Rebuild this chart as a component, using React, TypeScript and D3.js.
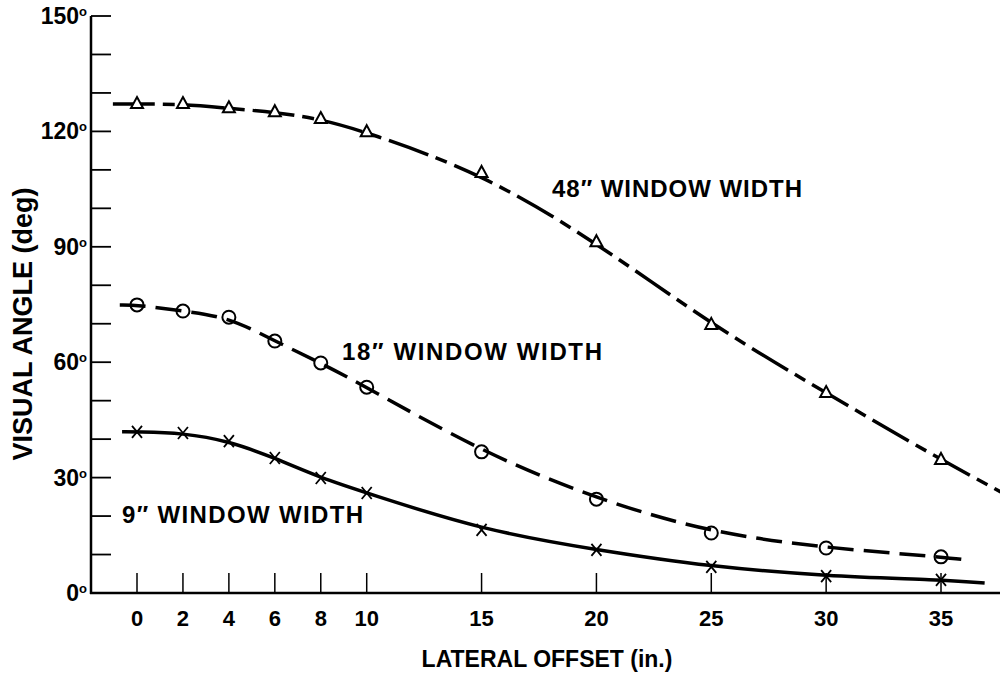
import React, { useRef, useEffect } from 'react';
import * as d3 from 'd3';

// lateral offset (in.) where the points were measured
const offsets = [0, 2, 4, 6, 8, 10, 15, 20, 25, 30, 35];

// visual angle (deg) per window width
const width48 = [127.1, 127.1, 126, 125, 123.2, 119.8, 109.2, 91.2, 69.7, 52, 34.6];
const width18 = [74.9, 73.3, 71.7, 65.5, 59.8, 53.5, 36.7, 24.4, 15.6, 11.7, 9.4];
const width9 = [41.9, 41.6, 39.5, 35.1, 29.9, 26, 16.4, 11.2, 6.8, 4.4, 3.4];

// where the drawn curves start and stop beyond the points: [offset, angle]
const ends48 = [[-1.05, 127.1], [37.6, 26.3]];
const ends18 = [[-0.75, 74.9], [36.1, 8.6]];
const ends9 = [[-0.65, 41.9], [36.9, 2.6]];

const yTicks = d3.range(10, 151, 10);
const yLabels = [0, 30, 60, 90, 120, 150];

const FONT = '"Liberation Sans", Arial, Helvetica, sans-serif';

const Chart = () => {
  const ref = useRef(null);

  useEffect(() => {
    const svg = d3.select(ref.current);
    svg.selectAll('*').remove();

    const x = d3.scaleLinear().domain([0, 35]).range([137, 941]);
    const y = d3.scaleLinear().domain([0, 150]).range([593, 16]);

    const axisX = 91;

    // axes
    svg.append('line')
      .attr('x1', axisX).attr('x2', axisX)
      .attr('y1', y(150)).attr('y2', y(0) + 1)
      .attr('stroke', '#000').attr('stroke-width', 2.5);
    svg.append('line')
      .attr('x1', axisX - 1).attr('x2', 1000)
      .attr('y1', y(0)).attr('y2', y(0))
      .attr('stroke', '#000').attr('stroke-width', 2.5);

    svg.append('g')
      .selectAll('line')
      .data(yTicks)
      .join('line')
      .attr('x1', axisX).attr('x2', axisX + 20)
      .attr('y1', d => y(d)).attr('y2', d => y(d))
      .attr('stroke', '#000').attr('stroke-width', 1.8);

    svg.append('g')
      .selectAll('line')
      .data(offsets)
      .join('line')
      .attr('x1', d => x(d)).attr('x2', d => x(d))
      .attr('y1', y(0)).attr('y2', y(0) - 20)
      .attr('stroke', '#000').attr('stroke-width', 1.5);

    // y tick labels with superscript degree
    const yl = svg.append('g')
      .selectAll('text')
      .data(yLabels)
      .join('text')
      .attr('x', 87)
      .attr('y', d => y(d) + 8)
      .attr('text-anchor', 'end')
      .attr('font-family', FONT)
      .attr('font-weight', 'bold')
      .attr('font-size', 23);
    yl.append('tspan').text(d => String(d));
    yl.append('tspan')
      .attr('font-size', 13)
      .attr('dy', -8)
      .text('o');

    svg.append('g')
      .selectAll('text')
      .data(offsets)
      .join('text')
      .attr('x', d => x(d))
      .attr('y', 626)
      .attr('text-anchor', 'middle')
      .attr('font-family', FONT)
      .attr('font-weight', 'bold')
      .attr('font-size', 22)
      .text(d => d);

    // axis titles
    svg.append('text')
      .attr('x', 547)
      .attr('y', 667)
      .attr('text-anchor', 'middle')
      .attr('font-family', FONT)
      .attr('font-weight', 'bold')
      .attr('font-size', 23)
      .text('LATERAL OFFSET (in.)');

    svg.append('text')
      .attr('transform', 'translate(32,324) rotate(-90)')
      .attr('text-anchor', 'middle')
      .attr('font-family', FONT)
      .attr('font-weight', 'bold')
      .attr('font-size', 27)
      .text('VISUAL ANGLE (deg)');

    // curves
    const line = d3.line()
      .x(d => x(d[0]))
      .y(d => y(d[1]))
      .curve(d3.curveBasis);

    const series = [
      { vals: width48, ends: ends48, dash: '42 8 12 8', marker: 'tri' },
      { vals: width18, ends: ends18, dash: '26 10', marker: 'circle' },
      { vals: width9, ends: ends9, dash: null, marker: 'cross' },
    ];

    series.forEach(s => {
      const pts = [s.ends[0], ...offsets.map((o, i) => [o, s.vals[i]]), s.ends[1]];
      svg.append('path')
        .attr('d', line(pts))
        .attr('fill', 'none')
        .attr('stroke', '#000')
        .attr('stroke-width', 3.5)
        .attr('stroke-dasharray', s.dash);

      const g = svg.append('g');
      offsets.forEach((o, i) => {
        const cx = x(o);
        const cy = y(s.vals[i]);
        if (s.marker === 'tri') {
          g.append('path')
            .attr('d', `M${cx},${cy - 7}L${cx + 6},${cy + 4}L${cx - 6},${cy + 4}Z`)
            .attr('fill', '#fff').attr('stroke', '#000').attr('stroke-width', 2);
        } else if (s.marker === 'circle') {
          g.append('circle')
            .attr('cx', cx).attr('cy', cy).attr('r', 6.5)
            .attr('fill', 'none').attr('stroke', '#000').attr('stroke-width', 2);
        } else {
          g.append('path')
            .attr('d', `M${cx - 5},${cy - 6}L${cx + 5},${cy + 6}M${cx + 5},${cy - 6}L${cx - 5},${cy + 6}`)
            .attr('stroke', '#000').attr('stroke-width', 1.8);
        }
      });
    });

    // curve labels
    const labels = [
      { text: '48\u2033 WINDOW WIDTH', x: 552, y: 197, w: 250 },
      { text: '18\u2033 WINDOW WIDTH', x: 342, y: 360, w: 260 },
      { text: '9\u2033 WINDOW WIDTH', x: 122, y: 523, w: 241 },
    ];
    svg.append('g')
      .selectAll('text')
      .data(labels)
      .join('text')
      .attr('x', d => d.x)
      .attr('y', d => d.y)
      .attr('textLength', d => d.w)
      .attr('lengthAdjust', 'spacing')
      .attr('font-family', FONT)
      .attr('font-weight', 'bold')
      .attr('font-size', 24)
      .text(d => d.text);
  }, []);

  return (
    <svg
      ref={ref}
      width={1000}
      height={673}
      style={{ position: 'absolute', left: 0, top: 0, background: '#fff' }}
    />
  );
};

export default function App() {
  return <Chart />;
}
